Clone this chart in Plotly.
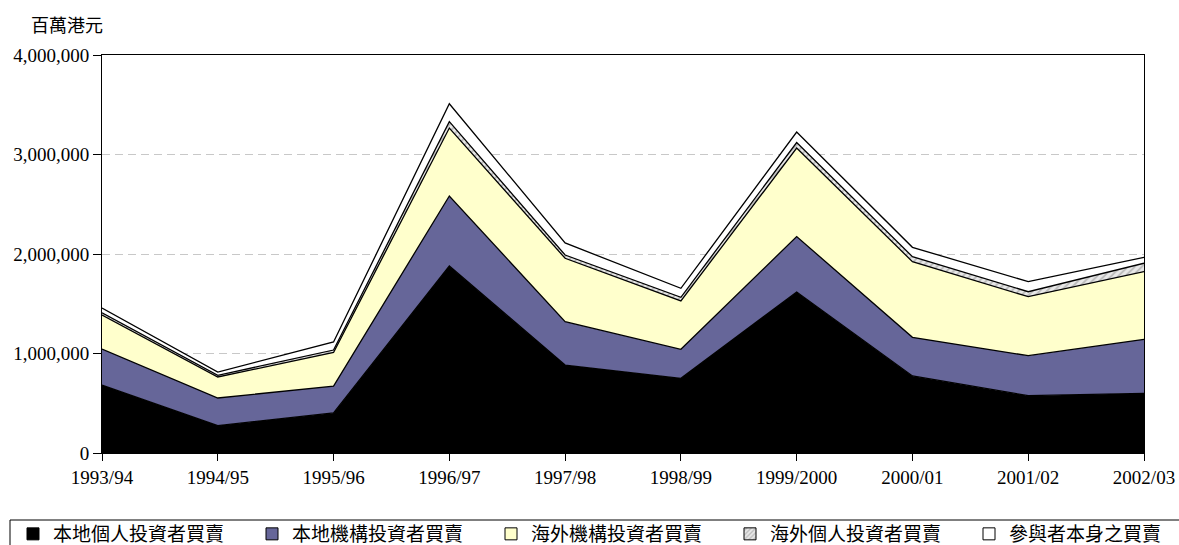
import plotly.graph_objects as go

# Turnover by investor type, HK$ million
years = ["1993/94", "1994/95", "1995/96", "1996/97", "1997/98",
         "1998/99", "1999/2000", "2000/01", "2001/02", "2002/03"]
local_retail = [683000, 276000, 402000, 1879000, 884000, 751000, 1618000, 774000, 576000, 600000]
local_inst = [362000, 277000, 271000, 704000, 436000, 291000, 557000, 389000, 402000, 543000]
overseas_inst = [342000, 211000, 337000, 683000, 637000, 486000, 890000, 760000, 593000, 679000]
overseas_retail = [23000, 16000, 25000, 64000, 33000, 37000, 55000, 50000, 50000, 85000]
principal = [47000, 34000, 81000, 180000, 121000, 90000, 105000, 94000, 101000, 60000]

names = ["本地個人投資者買賣", "本地機構投資者買賣", "海外機構投資者買賣",
         "海外個人投資者買賣", "參與者本身之買賣"]
colors = ["#000000", "#666699", "#FFFFCC", "#E0E0E0", "#FFFFFF"]
series = [local_retail, local_inst, overseas_inst, overseas_retail, principal]
hatch = dict(shape="/", fgcolor="#8C8C8C", bgcolor="#E8E8E8", size=5, solidity=0.35)

xs = list(range(len(years)))
fig = go.Figure()

for name, col, vals in zip(names, colors, series):
    kw = {}
    if name == "海外個人投資者買賣":
        kw["fillpattern"] = hatch
    fig.add_trace(go.Scatter(
        x=xs, y=vals, mode="lines", stackgroup="one", name=name,
        line=dict(color="#000000", width=1.3), fillcolor=col,
        showlegend=False, **kw))

# legend keys: small bordered squares (bar-style icons)
for i, (name, col) in enumerate(zip(names, colors)):
    mk = dict(color=col, line=dict(color="#000000", width=1))
    if name == "海外個人投資者買賣":
        mk["pattern"] = dict(shape="/", fgcolor="#8C8C8C", bgcolor="#E8E8E8",
                             size=4, solidity=0.4)
    fig.add_trace(go.Bar(
        x=[None], y=[None], name=name, marker=mk,
        legend="legend" if i < 4 else "legend2"))

W, H = 1179, 545
L, R, T, B = 102, 35, 55, 92
pw, ph = W - L - R, H - T - B

def px_x(p):
    return (p - L) / pw

def px_y(p):
    return (H - B - p) / ph

legend_font = dict(family="Noto Sans CJK TC", size=19, color="#000000")
tick_font = dict(family="Liberation Serif", size=19, color="#000000")
leg_x0, leg_step = 13, 239

fig.update_layout(
    width=W, height=H,
    margin=dict(l=L, r=R, t=T, b=B, autoexpand=False),
    paper_bgcolor="#FFFFFF", plot_bgcolor="#FFFFFF",
    font=dict(family="Liberation Serif", size=19, color="#000000"),
    xaxis=dict(
        range=[0, len(years) - 1], tickmode="array", tickvals=xs, ticktext=years,
        showline=True, linecolor="#000000", linewidth=1, mirror=True,
        ticks="outside", ticklen=7, tickcolor="#000000", showgrid=False,
        zeroline=False, tickfont=tick_font),
    yaxis=dict(
        range=[0, 4000000], dtick=1000000, tickformat=",",
        showline=True, linecolor="#000000", linewidth=1, mirror=True,
        ticks="outside", ticklen=8, tickcolor="#000000",
        showgrid=True, gridcolor="#C8C8C8", griddash="8px,5px", gridwidth=1,
        zeroline=False, tickfont=tick_font),
    showlegend=True,
    legend=dict(
        orientation="h", traceorder="normal",
        x=px_x(leg_x0), xanchor="left", y=px_y(515), yanchor="top",
        entrywidth=leg_step - 45, entrywidthmode="pixels", itemwidth=30,
        font=legend_font, bgcolor="rgba(0,0,0,0)", borderwidth=0),
    legend2=dict(
        orientation="h", traceorder="normal",
        x=px_x(leg_x0 + 4 * leg_step), xanchor="left", y=px_y(515), yanchor="top",
        itemwidth=30, font=legend_font, bgcolor="rgba(0,0,0,0)", borderwidth=0),
    shapes=[dict(type="rect", xref="paper", yref="paper",
                 x0=px_x(10), x1=px_x(1200), y0=px_y(520), y1=px_y(560),
                 line=dict(color="#000000", width=1), fillcolor="rgba(0,0,0,0)")],
    annotations=[dict(text="百萬港元", xref="paper", yref="paper",
                      x=px_x(29), y=px_y(24), xanchor="left", yanchor="middle",
                      showarrow=False,
                      font=dict(family="Noto Sans CJK TC", size=18, color="#000000"))],
)

fig.write_html("out.html")
